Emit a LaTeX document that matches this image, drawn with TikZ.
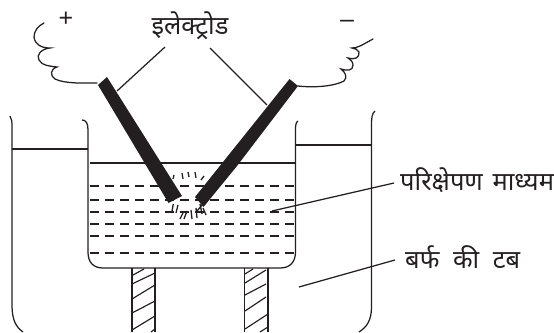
\documentclass[tikz,border=0pt]{standalone}
\usepackage{fontspec}
\newfontfamily\hindi[Script=Devanagari]{Noto Sans}
\newfontfamily\plain{Liberation Sans}
\definecolor{ink}{HTML}{231F20}
\tikzset{
  wall/.style={draw=ink,line width=1.25pt},
  wire/.style={draw=ink,line width=1.25pt,line cap=round},
  leader/.style={draw=ink,line width=1.25pt},
  level/.style={draw=ink,line width=1.25pt},
  liquid/.style={draw=ink,line width=1.3pt,dash pattern=on 9pt off 6pt},
  electrode/.style={fill=ink,draw=none},
  spark/.style={draw=ink,line width=1.3pt},
  hatchline/.style={draw=ink,line width=1.15pt},
  lab/.style={inner sep=0pt,font=\hindi\fontsize{25.5}{28}\selectfont,text=ink},
  sign/.style={inner sep=0pt,font=\plain\fontsize{25}{27}\selectfont,text=ink}
}
\begin{document}
\begin{tikzpicture}[x=1pt,y=-1pt]
\useasboundingbox (0,0) rectangle (554,332);
% labels
\node[lab] (electrodes) at (190,26) {इलेक्ट्रोड};
\node[lab,anchor=west] (medium) at (400,180) {परिक्षेपण\hspace{3pt} माध्यम};
\node[lab,anchor=west] (ice) at (405,257) {बर्फ\hspace{7pt} की\hspace{7pt} टब};
\node[sign] (plus) at (66,19) {+};
\node[sign] (minus) at (347,24) {–};
% outer tub
\draw[wall] (10,116) .. controls (12,119) and (12,122) .. (12,128) -- (12,305)
   .. controls (12,320) and (16,327) .. (23,332);
\draw[wall] (375,111) .. controls (372,113) and (371.5,118) .. (371.5,125) -- (371.5,307)
   .. controls (371.5,320) and (367,327) .. (359,332);
% beaker
\draw[wall] (82,120) .. controls (86,120) and (88,123) .. (88,130) -- (88,252)
   .. controls (88,262) and (93,268) .. (103,268) -- (280,268)
   .. controls (290,268) and (295.5,262) .. (295.5,252) -- (295.5,130)
   .. controls (295.5,125) and (296,122) .. (298,121);
% levels
\coordinate (ol1) at (12,149); \coordinate (ol2) at (88,149);
\coordinate (or1) at (296,145); \coordinate (or2) at (371,145);
\coordinate (b1) at (90,163); \coordinate (b2) at (296,163);
\draw[level] (ol1) -- (ol2);
\draw[level] (or1) -- (or2);
\draw[level] (b1) -- (b2);
% dispersion medium
\foreach \yy in {186,200,212,224,236,253}
  \draw[liquid] (90,\yy) -- (295,\yy);
% electrodes
\fill[electrode] (98,85) -- (107,77) -- (182,196) -- (168.5,203) -- cycle;
\fill[electrode] (289.5,79) -- (298,86) -- (237,166) -- (203.5,207) -- (195,197) -- cycle;
% sparks
\foreach \a/\b/\c/\d in {174/175/173/179, 182/173/183/179, 188/172/189/177, 195/172/196/178, 204/176/201/180,
  173.3/204/171.7/213, 178/205/176/213, 183/213/180/219, 187/211/184/219, 191/210/192/219, 196/208/197/218,
  200/204/202/214, 203/208/206/215, 197/211/203/204}
  \draw[spark] (\a,\b) -- (\c,\d);
% supports
\draw[wall] (132,268) -- (132,332);
\draw[wall] (155,268) -- (155,332);
\draw[wall] (244.5,268) -- (244.5,332);
\draw[wall] (268,268) -- (268,332);
\foreach \a/\b/\c/\d in {133/275/144/269, 132/284/155/273, 132/299/155/285, 132/313/155/301, 132/330/155/316, 151/332/155/329,
  245/274/253/269, 245/283/266/270, 245/295/266/284, 245/311/266/297, 245/329/268/314, 260/332/268/327}
  \draw[hatchline] (\a,\b) -- (\c,\d);
% wires
\coordinate (wl) at (97,83);
\coordinate (wr) at (298,86);
\draw[wire] (wl) .. controls (85,83) and (65,84) .. (55,79)
  .. controls (50,76) and (50,69) .. (57,67) .. controls (50,66) and (42,66) .. (39,60)
  .. controls (36,55) and (41,49) .. (50,48) .. controls (42,48) and (35,45) .. (34,37)
  .. controls (34,31) and (38,26) .. (44,23);
\draw[wire] (wr) .. controls (315,88) and (335,86) .. (344,81)
  .. controls (348,77) and (345,72) .. (341,69) .. controls (347,71) and (353,71) .. (353,65)
  .. controls (353,61) and (350,60) .. (348,58) .. controls (354,60) and (360,58) .. (359,52)
  .. controls (358,49) and (355,49) .. (352,48) .. controls (358,48) and (362,45) .. (373,39);
% leaders
\coordinate (e1) at (165,47); \coordinate (e2) at (117,91);
\coordinate (e3) at (210,48); \coordinate (e4) at (267,105);
\coordinate (m1) at (394,183); \coordinate (m2) at (272,211);
\coordinate (i1) at (395,260); \coordinate (i2) at (299,287);
\draw[leader] (e1) -- (e2);
\draw[leader] (e3) -- (e4);
\draw[leader] (m1) -- (m2);
\draw[leader] (i1) -- (i2);
\end{tikzpicture}
\end{document}
